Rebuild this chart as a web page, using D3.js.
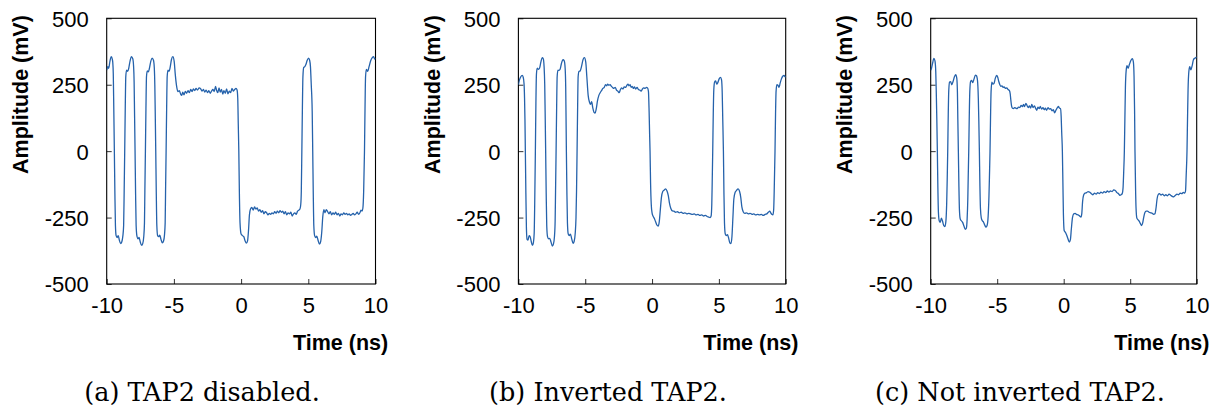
<!DOCTYPE html>
<html>
<head>
<meta charset="utf-8">
<script src="https://cdn.jsdelivr.net/npm/d3@7"></script>
<style>
  html, body { margin: 0; padding: 0; background: #fff; }
  svg { display: block; }
</style>
</head>
<body>
<svg id="fig" width="1220" height="412"></svg>
<script>
// Axis ticks and captions
const timeTicks = [-10, -5, 0, 5, 10];
const ampTicks = [-500, -250, 0, 250, 500];
const captions = ["(a) TAP2 disabled.", "(b) Inverted TAP2.", "(c) Not inverted TAP2."];

// Waveforms: [time (ns), amplitude (mV)]
const tap2Disabled = [
  [-10.00, 305], [-9.92, 318], [-9.85, 312], [-9.76, 338], [-9.66, 356], [-9.58, 345], [-9.55, 335],
  [-9.51, 290], [-9.47, 150], [-9.43, 0], [-9.39, -160], [-9.35, -280], [-9.30, -318],
  [-9.22, -325], [-9.14, -318], [-9.06, -335], [-8.96, -348], [-8.88, -342], [-8.80, -320],
  [-8.74, -280], [-8.70, -150], [-8.66, 0], [-8.62, 160], [-8.58, 280], [-8.52, 305],
  [-8.44, 300], [-8.36, 312], [-8.26, 340], [-8.16, 356], [-8.06, 348], [-8.00, 320],
  [-7.96, 260], [-7.93, 150], [-7.89, 0], [-7.85, -160], [-7.81, -280], [-7.75, -320],
  [-7.67, -330], [-7.59, -325], [-7.50, -342], [-7.40, -355], [-7.32, -348], [-7.24, -320],
  [-7.19, -270], [-7.16, -150], [-7.12, 0], [-7.08, 160], [-7.04, 280], [-6.98, 302],
  [-6.90, 298], [-6.82, 312], [-6.72, 338], [-6.62, 350], [-6.52, 342], [-6.46, 315],
  [-6.42, 250], [-6.39, 150], [-6.35, 0], [-6.31, -160], [-6.27, -280], [-6.21, -318],
  [-6.13, -322], [-6.05, -316], [-5.96, -332], [-5.86, -345], [-5.77, -338], [-5.70, -315],
  [-5.65, -270], [-5.62, -150], [-5.58, 0], [-5.54, 160], [-5.50, 280], [-5.44, 305],
  [-5.36, 300], [-5.28, 315], [-5.18, 345], [-5.08, 356], [-4.98, 338], [-4.90, 290],
  [-4.80, 245], [-4.70, 224], [-4.60, 228], [-4.50, 215], [-4.42, 210], [-4.34, 222],
  [-4.25, 212], [-4.15, 225], [-4.05, 218], [-3.95, 228], [-3.85, 220], [-3.75, 232],
  [-3.65, 224], [-3.55, 234], [-3.45, 228], [-3.35, 236], [-3.25, 230], [-3.12, 238],
  [-3.00, 234], [-2.90, 226], [-2.80, 232], [-2.70, 222], [-2.60, 230], [-2.50, 220],
  [-2.40, 228], [-2.30, 218], [-2.20, 226], [-2.10, 232], [-2.00, 224], [-1.90, 244],
  [-1.82, 228], [-1.74, 220], [-1.64, 238], [-1.55, 222], [-1.46, 232], [-1.36, 215],
  [-1.28, 228], [-1.18, 218], [-1.08, 234], [-0.98, 216], [-0.88, 226], [-0.78, 220],
  [-0.68, 236], [-0.58, 226], [-0.48, 232], [-0.38, 236], [-0.30, 230], [-0.25, 200],
  [-0.21, 100], [-0.17, 0], [-0.13, -150], [-0.08, -270], [0.00, -312],
  [0.10, -318], [0.20, -322], [0.30, -338], [0.40, -346], [0.48, -338], [0.55, -300],
  [0.62, -240], [0.70, -218], [0.80, -212], [0.90, -222], [1.00, -210], [1.10, -218],
  [1.20, -214], [1.30, -226], [1.40, -220], [1.50, -230], [1.60, -224], [1.70, -236],
  [1.80, -228], [1.90, -232], [2.00, -240], [2.10, -234], [2.20, -238], [2.30, -232],
  [2.40, -236], [2.50, -228], [2.60, -234], [2.70, -226], [2.80, -232], [2.90, -224],
  [3.00, -230], [3.10, -226], [3.20, -236], [3.30, -228], [3.40, -240], [3.50, -232],
  [3.60, -236], [3.70, -230], [3.80, -244], [3.90, -236], [4.00, -232], [4.10, -238],
  [4.20, -226], [4.30, -222], [4.38, -218], [4.44, -200], [4.48, -150], [4.52, 0],
  [4.56, 160], [4.60, 280], [4.66, 315], [4.74, 318], [4.82, 326], [4.92, 342],
  [5.02, 350], [5.10, 342], [5.16, 318], [5.22, 250], [5.29, 150], [5.33, 0],
  [5.37, -160], [5.41, -280], [5.47, -318], [5.55, -325], [5.63, -320], [5.73, -336],
  [5.83, -350], [5.92, -340], [6.00, -305], [6.08, -245], [6.16, -220], [6.24, -232],
  [6.34, -220], [6.44, -228], [6.54, -236], [6.64, -228], [6.74, -240], [6.84, -232],
  [6.94, -238], [7.04, -230], [7.14, -240], [7.24, -234], [7.34, -244], [7.44, -236],
  [7.54, -240], [7.64, -232], [7.74, -238], [7.84, -234], [7.94, -240], [8.04, -236],
  [8.14, -242], [8.24, -238], [8.34, -234], [8.44, -240], [8.54, -236], [8.64, -230],
  [8.74, -238], [8.84, -232], [8.92, -222], [9.00, -226], [9.06, -215], [9.12, -150],
  [9.18, 0], [9.22, 160], [9.26, 280], [9.32, 308], [9.42, 300], [9.52, 318],
  [9.64, 340], [9.76, 352], [9.86, 356], [9.94, 346], [10.00, 350]
];

const tap2Inverted = [
  [-10.00, 250], [-9.92, 268], [-9.82, 280], [-9.72, 285], [-9.64, 278], [-9.58, 255],
  [-9.54, 200], [-9.51, 120], [-9.48, 0], [-9.44, -160], [-9.40, -290], [-9.35, -332],
  [-9.28, -335], [-9.20, -318], [-9.12, -322], [-9.04, -340], [-8.95, -355], [-8.88, -345],
  [-8.82, -310], [-8.78, -200], [-8.73, 0], [-8.69, 180], [-8.65, 290], [-8.59, 312],
  [-8.50, 308], [-8.42, 312], [-8.32, 335], [-8.22, 352], [-8.14, 348], [-8.08, 320],
  [-8.03, 250], [-8.00, 150], [-7.96, 0], [-7.92, -160], [-7.88, -280], [-7.82, -322],
  [-7.74, -330], [-7.66, -328], [-7.56, -342], [-7.46, -357], [-7.38, -350], [-7.30, -320],
  [-7.25, -260], [-7.22, -150], [-7.18, 0], [-7.14, 160], [-7.10, 280], [-7.04, 305],
  [-6.96, 304], [-6.88, 308], [-6.78, 330], [-6.66, 344], [-6.57, 340], [-6.50, 310],
  [-6.46, 240], [-6.44, 150], [-6.41, 0], [-6.37, -160], [-6.33, -270], [-6.27, -312],
  [-6.19, -318], [-6.11, -312], [-6.01, -330], [-5.91, -347], [-5.83, -340], [-5.75, -310],
  [-5.69, -250], [-5.65, -150], [-5.61, 0], [-5.57, 160], [-5.53, 280], [-5.47, 300],
  [-5.38, 302], [-5.28, 318], [-5.16, 345], [-5.06, 352], [-4.96, 335], [-4.88, 280],
  [-4.78, 210], [-4.68, 184], [-4.60, 176], [-4.52, 186], [-4.44, 165], [-4.34, 146],
  [-4.26, 143], [-4.18, 158], [-4.08, 190], [-3.98, 210], [-3.88, 220], [-3.78, 228],
  [-3.68, 236], [-3.58, 240], [-3.48, 250], [-3.40, 246], [-3.32, 252], [-3.24, 248],
  [-3.14, 250], [-3.04, 244], [-2.96, 240], [-2.86, 236], [-2.76, 240], [-2.66, 230],
  [-2.56, 226], [-2.46, 220], [-2.38, 230], [-2.28, 238], [-2.18, 234], [-2.08, 242],
  [-1.98, 240], [-1.88, 248], [-1.80, 252], [-1.72, 246], [-1.64, 250], [-1.56, 240],
  [-1.48, 244], [-1.40, 236], [-1.32, 242], [-1.22, 234], [-1.12, 240], [-1.02, 232],
  [-0.92, 230], [-0.82, 226], [-0.72, 234], [-0.62, 238], [-0.52, 236], [-0.42, 240],
  [-0.34, 238], [-0.27, 225], [-0.22, 150], [-0.18, 60], [-0.15, 0], [-0.11, -120],
  [-0.06, -200], [0.00, -232], [0.08, -245], [0.16, -252], [0.26, -265], [0.36, -278],
  [0.46, -282], [0.54, -265], [0.62, -220], [0.70, -175], [0.80, -152], [0.92, -146],
  [1.02, -142], [1.12, -150], [1.22, -168], [1.30, -195], [1.40, -215], [1.52, -225],
  [1.64, -226], [1.76, -230], [1.90, -228], [2.04, -232], [2.18, -230], [2.32, -234],
  [2.46, -232], [2.60, -236], [2.74, -234], [2.88, -236], [3.02, -238], [3.16, -236],
  [3.30, -240], [3.44, -238], [3.58, -242], [3.72, -240], [3.86, -244], [4.00, -242],
  [4.12, -246], [4.24, -248], [4.34, -250], [4.42, -244], [4.47, -200], [4.50, -120],
  [4.54, 0], [4.58, 140], [4.62, 230], [4.68, 260], [4.76, 264], [4.84, 252],
  [4.92, 258], [5.02, 272], [5.12, 278], [5.20, 268], [5.25, 220], [5.29, 120],
  [5.34, 0], [5.38, -160], [5.42, -270], [5.48, -312], [5.56, -318], [5.64, -314],
  [5.72, -325], [5.82, -345], [5.90, -348], [5.98, -320], [6.05, -250], [6.12, -180],
  [6.22, -155], [6.32, -148], [6.44, -142], [6.54, -150], [6.64, -175], [6.72, -210],
  [6.82, -228], [6.94, -234], [7.06, -232], [7.20, -236], [7.34, -234], [7.48, -238],
  [7.62, -236], [7.76, -240], [7.90, -238], [8.04, -240], [8.18, -238], [8.32, -242],
  [8.46, -238], [8.58, -236], [8.70, -230], [8.80, -226], [8.88, -232], [8.96, -238],
  [9.04, -240], [9.10, -220], [9.14, -150], [9.20, 0], [9.24, 140], [9.28, 225],
  [9.34, 250], [9.42, 248], [9.50, 240], [9.58, 255], [9.68, 272], [9.78, 282],
  [9.88, 285], [9.96, 280], [10.00, 282]
];

const tap2NotInverted = [
  [-10.00, 305], [-9.94, 312], [-9.86, 330], [-9.76, 349], [-9.68, 340], [-9.62, 300],
  [-9.58, 220], [-9.54, 120], [-9.50, 0], [-9.46, -140], [-9.42, -230], [-9.36, -262],
  [-9.28, -268], [-9.20, -252], [-9.12, -262], [-9.02, -280], [-8.94, -284], [-8.86, -265],
  [-8.80, -200], [-8.76, -110], [-8.72, 0], [-8.68, 140], [-8.64, 230], [-8.58, 260],
  [-8.50, 262], [-8.42, 250], [-8.32, 262], [-8.20, 282], [-8.12, 288], [-8.04, 275],
  [-7.99, 220], [-7.96, 120], [-7.92, 0], [-7.88, -130], [-7.84, -220], [-7.78, -255],
  [-7.70, -262], [-7.60, -268], [-7.50, -282], [-7.40, -294], [-7.32, -290], [-7.26, -255],
  [-7.21, -180], [-7.18, -100], [-7.14, 0], [-7.10, 130], [-7.06, 225], [-7.00, 262],
  [-6.92, 266], [-6.84, 258], [-6.74, 272], [-6.64, 286], [-6.56, 284], [-6.48, 265],
  [-6.42, 200], [-6.38, 110], [-6.34, 0], [-6.30, -130], [-6.26, -215], [-6.20, -250],
  [-6.12, -262], [-6.04, -266], [-5.94, -278], [-5.84, -286], [-5.76, -280], [-5.68, -245],
  [-5.62, -170], [-5.58, -90], [-5.54, 0], [-5.50, 130], [-5.46, 225], [-5.40, 260],
  [-5.32, 252], [-5.24, 255], [-5.14, 275], [-5.04, 285], [-4.96, 278], [-4.88, 262],
  [-4.80, 250], [-4.72, 244], [-4.64, 246], [-4.56, 240], [-4.48, 242], [-4.38, 236],
  [-4.28, 238], [-4.18, 232], [-4.08, 228], [-4.02, 215], [-3.97, 190], [-3.92, 170],
  [-3.86, 162], [-3.78, 160], [-3.70, 164], [-3.60, 162], [-3.50, 160], [-3.40, 166],
  [-3.30, 164], [-3.20, 172], [-3.10, 168], [-3.02, 176], [-2.94, 168], [-2.84, 180],
  [-2.76, 172], [-2.66, 164], [-2.58, 170], [-2.48, 162], [-2.40, 176], [-2.30, 164],
  [-2.20, 170], [-2.10, 160], [-2.02, 154], [-1.94, 166], [-1.84, 160], [-1.76, 168],
  [-1.66, 158], [-1.56, 164], [-1.46, 156], [-1.38, 162], [-1.28, 154], [-1.18, 164],
  [-1.08, 158], [-0.98, 160], [-0.88, 152], [-0.78, 156], [-0.68, 144], [-0.60, 152],
  [-0.50, 162], [-0.40, 168], [-0.32, 162], [-0.24, 160], [-0.19, 130], [-0.15, 70],
  [-0.10, 0], [-0.06, -120], [-0.02, -240], [0.04, -300], [0.12, -305], [0.22, -316],
  [0.32, -330], [0.42, -342], [0.50, -334], [0.58, -290], [0.66, -250], [0.76, -236],
  [0.86, -234], [0.96, -238], [1.08, -240], [1.20, -244], [1.30, -248], [1.36, -235],
  [1.42, -190], [1.50, -165], [1.60, -158], [1.72, -156], [1.84, -152], [1.96, -155],
  [2.08, -160], [2.20, -164], [2.32, -158], [2.44, -162], [2.56, -156], [2.68, -160],
  [2.80, -154], [2.92, -158], [3.04, -152], [3.16, -156], [3.28, -150], [3.40, -154],
  [3.52, -150], [3.64, -152], [3.76, -146], [3.88, -148], [4.00, -156], [4.12, -160],
  [4.22, -166], [4.32, -164], [4.40, -160], [4.46, -140], [4.51, -80], [4.56, 0],
  [4.60, 120], [4.64, 240], [4.70, 305], [4.76, 322], [4.84, 312], [4.94, 326],
  [5.06, 342], [5.16, 348], [5.24, 335], [5.29, 280], [5.33, 150], [5.36, 0],
  [5.40, -130], [5.44, -215], [5.50, -252], [5.58, -258], [5.66, -262], [5.76, -272],
  [5.86, -280], [5.94, -270], [6.02, -248], [6.10, -232], [6.20, -226], [6.30, -226],
  [6.42, -230], [6.54, -232], [6.66, -234], [6.76, -238], [6.86, -236], [6.94, -215],
  [7.02, -180], [7.10, -164], [7.20, -160], [7.32, -165], [7.44, -162], [7.56, -168],
  [7.68, -164], [7.80, -168], [7.92, -162], [8.04, -166], [8.16, -170], [8.28, -172],
  [8.40, -166], [8.52, -162], [8.64, -164], [8.76, -158], [8.88, -160], [9.00, -155],
  [9.10, -158], [9.16, -150], [9.21, -90], [9.27, 0], [9.31, 120], [9.35, 230],
  [9.41, 300], [9.48, 318], [9.56, 306], [9.66, 322], [9.76, 345], [9.86, 350],
  [9.94, 352], [10.00, 354]
];

const traces = [tap2Disabled, tap2Inverted, tap2NotInverted];

// Layout of the three panels
const panelBoxes = [
  { left: 106.7, right: 375.5, captionX: 202 },
  { left: 518.4, right: 785.7, captionX: 608 },
  { left: 930.7, right: 1196.7, captionX: 1020 }
];
const plotTop = 18.3, plotBottom = 284;
const sansFont = "'Liberation Sans', Arial, Helvetica, sans-serif";
const lineColor = "#2562ab";
// plain hyphen-minus for negative tick labels
const tickText = d => String(d);

const svg = d3.select("#fig");

panelBoxes.forEach((box, i) => {
  const x = d3.scaleLinear().domain([-10, 10]).range([box.left, box.right]);
  const y = d3.scaleLinear().domain([-500, 500]).range([plotBottom, plotTop]);
  const g = svg.append("g");

  // clip region for the trace
  const clipId = "clip" + i;
  svg.append("clipPath").attr("id", clipId)
    .append("rect")
    .attr("x", box.left).attr("y", plotTop)
    .attr("width", box.right - box.left).attr("height", plotBottom - plotTop);

  // bottom axis, ticks pointing inward
  const xAxis = g.append("g")
    .attr("transform", `translate(0,${plotBottom})`)
    .call(d3.axisBottom(x).tickValues(timeTicks).tickSizeInner(-5).tickSizeOuter(0).tickFormat(tickText));
  xAxis.select(".domain").remove();
  xAxis.selectAll(".tick line").attr("stroke", "#333");
  xAxis.selectAll(".tick text")
    .attr("y", 29).attr("dy", 0)
    .attr("fill", "#000")
    .style("font-family", sansFont).style("font-size", "22px");

  // left axis, ticks pointing inward
  const yAxis = g.append("g")
    .attr("transform", `translate(${box.left},0)`)
    .call(d3.axisLeft(y).tickValues(ampTicks).tickSizeInner(-5).tickSizeOuter(0).tickFormat(tickText));
  yAxis.select(".domain").remove();
  yAxis.selectAll(".tick line").attr("stroke", "#333");
  yAxis.selectAll(".tick text")
    .attr("x", -18).attr("dy", "0.36em")
    .attr("fill", "#000")
    .style("font-family", sansFont).style("font-size", "22px");

  // plot frame
  g.append("rect")
    .attr("x", box.left).attr("y", plotTop)
    .attr("width", box.right - box.left).attr("height", plotBottom - plotTop)
    .attr("fill", "none").attr("stroke", "#000").attr("stroke-width", 1.1);

  // waveform
  const line = d3.line()
    .x(d => x(d[0]))
    .y(d => y(d[1]))
    .curve(d3.curveMonotoneX);
  g.append("path")
    .datum(traces[i])
    .attr("clip-path", `url(#${clipId})`)
    .attr("d", line)
    .attr("fill", "none")
    .attr("stroke", lineColor)
    .attr("stroke-width", 1.3)
    .attr("stroke-linejoin", "round");

  // axis titles
  g.append("text")
    .attr("transform", `translate(${box.left - 78.7},174) rotate(-90)`)
    .attr("text-anchor", "start")
    .style("font-family", sansFont).style("font-size", "21.5px").style("font-weight", "bold")
    .text("Amplitude (mV)");
  g.append("text")
    .attr("x", box.right + 12.7).attr("y", 350)
    .attr("text-anchor", "end")
    .style("font-family", sansFont).style("font-size", "21.5px").style("font-weight", "bold")
    .text("Time (ns)");

  // caption
  g.append("text")
    .attr("x", box.captionX).attr("y", 401)
    .attr("text-anchor", "middle")
    .style("font-family", "'DejaVu Serif', 'Liberation Serif', serif")
    .style("font-size", "25.5px")
    .text(captions[i]);
});
</script>
</body>
</html>
